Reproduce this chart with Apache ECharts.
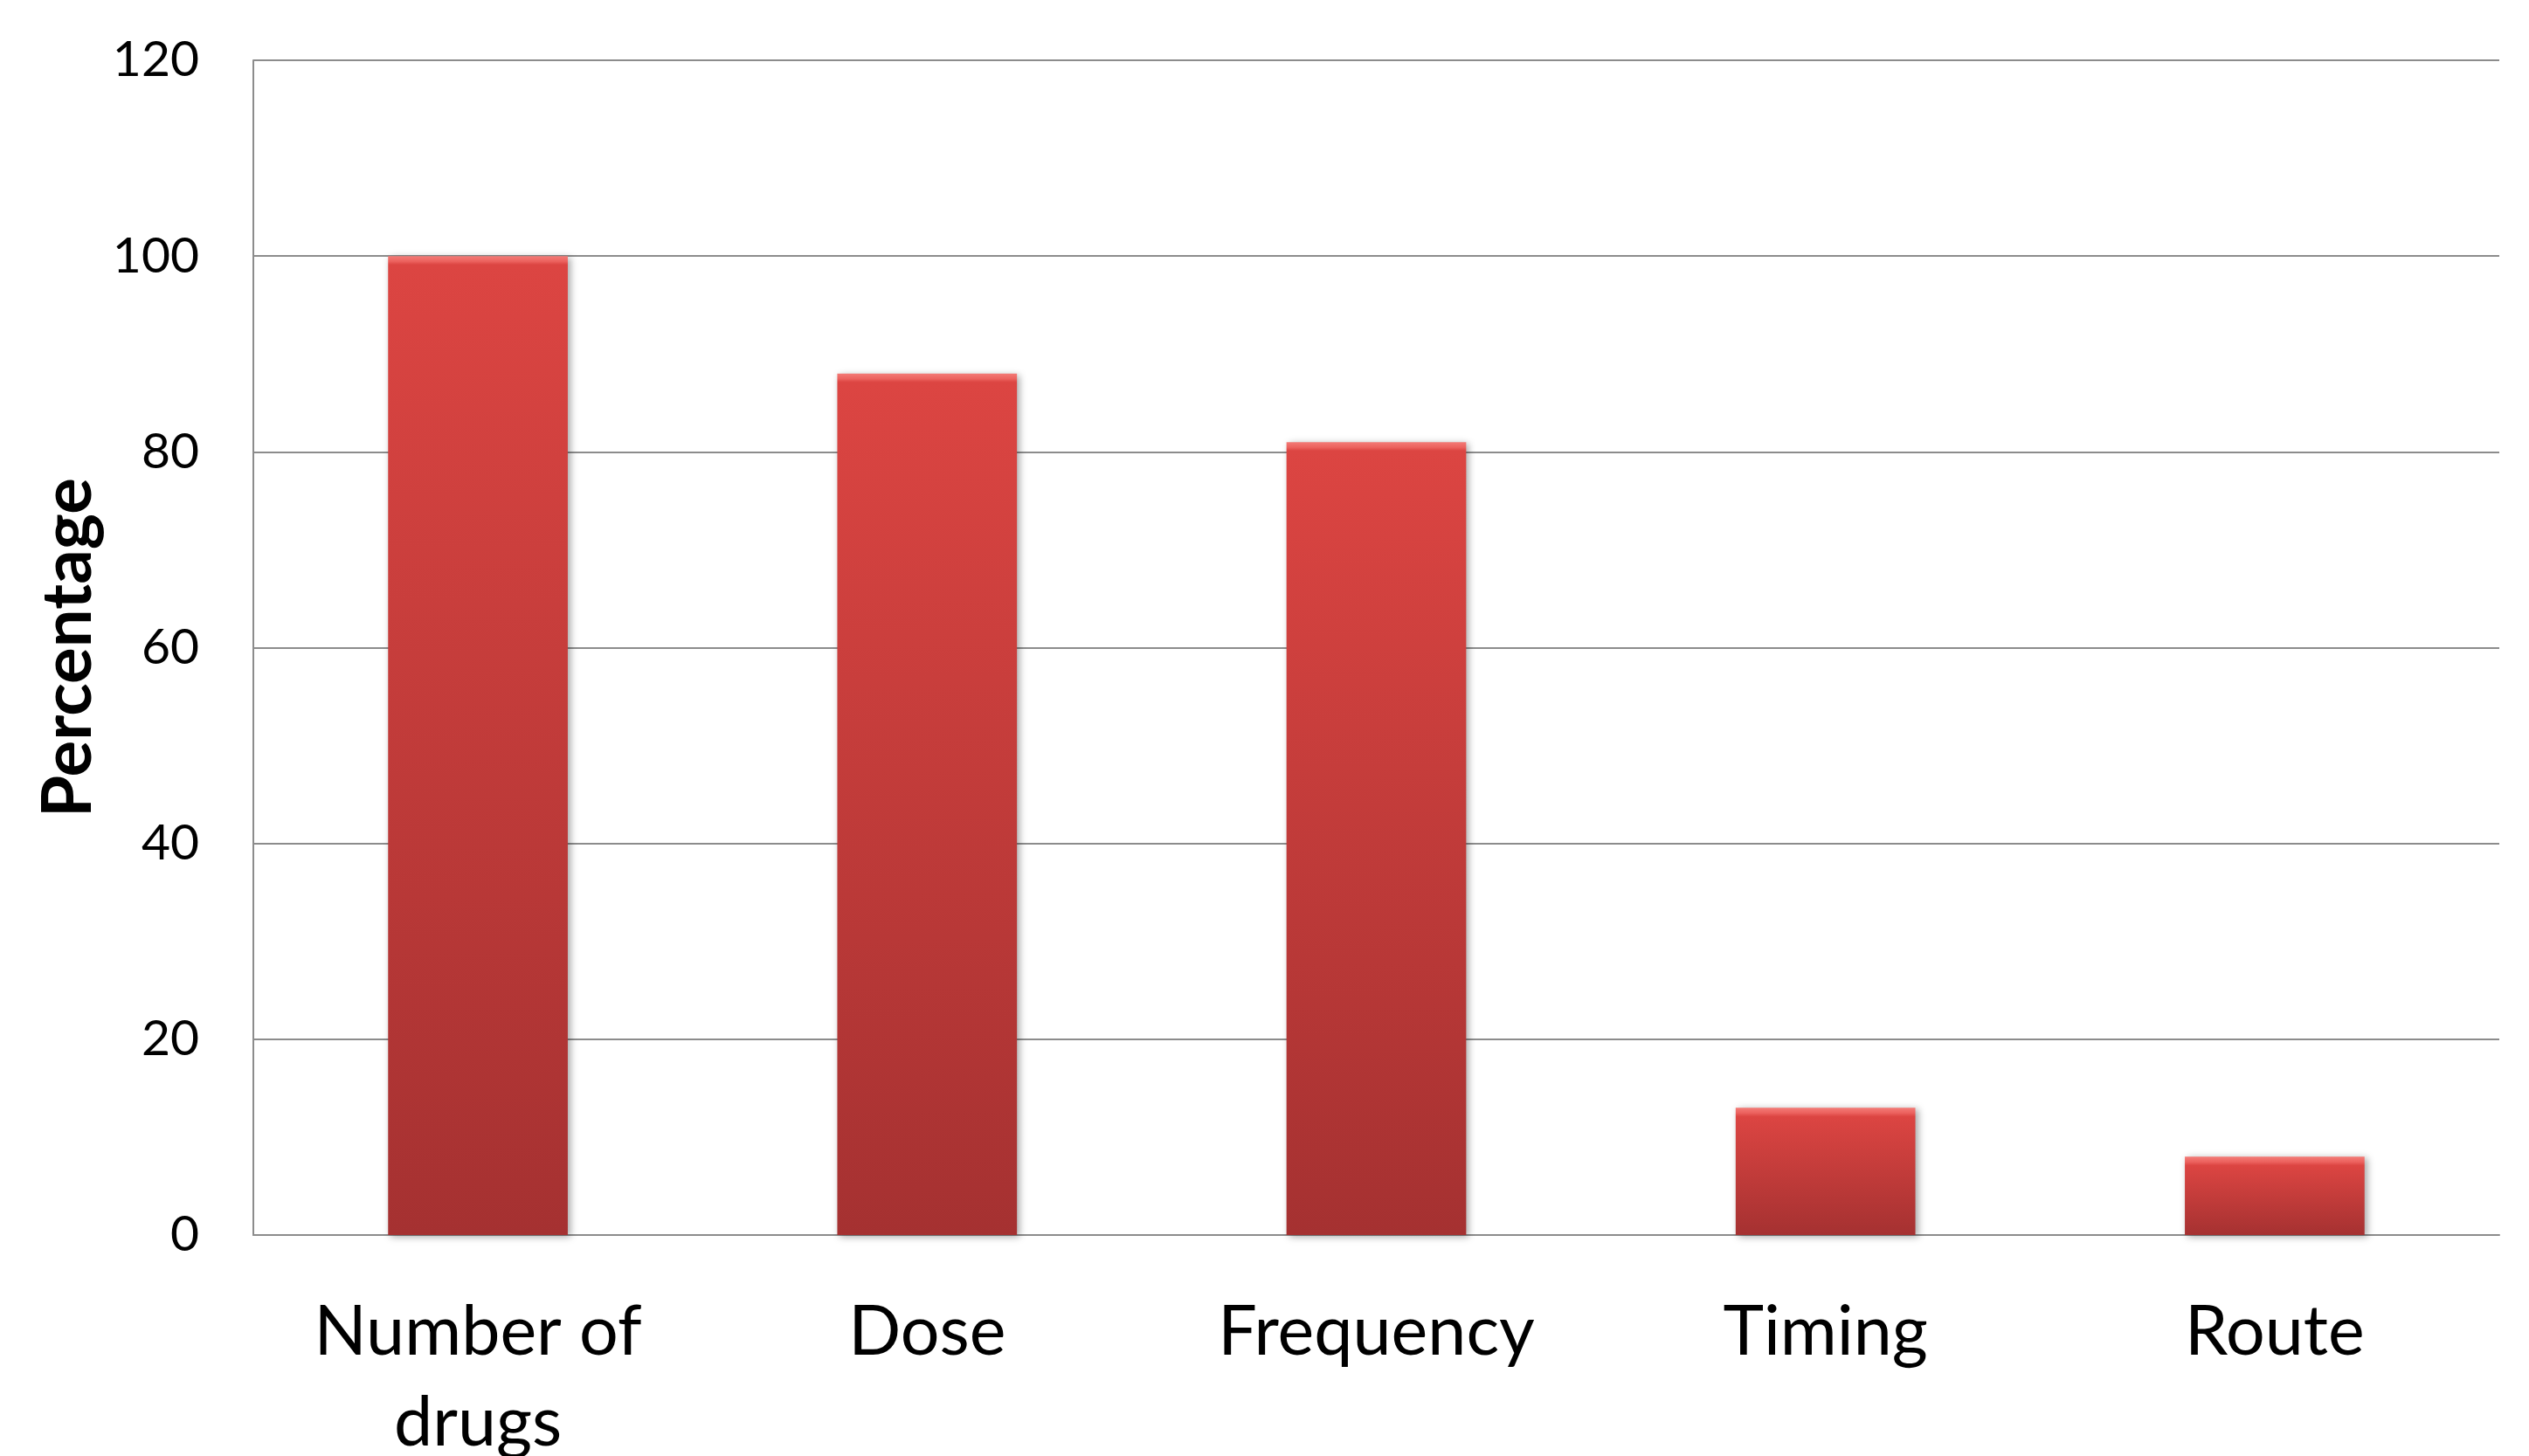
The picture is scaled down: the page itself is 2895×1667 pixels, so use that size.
<!DOCTYPE html>
<html>
<head>
<meta charset="utf-8">
<script src="https://cdn.jsdelivr.net/npm/echarts@6/dist/echarts.min.js"></script>
<style>
html,body{margin:0;padding:0;background:#fff;}
#chart{width:2895px;height:1667px;}
</style>
</head>
<body>
<div id="chart"></div>
<script>
// ---- data ----
const categories = ['Number of\ndrugs', 'Dose', 'Frequency', 'Timing', 'Route'];
const percentages = [100, 88, 81, 13, 8];
const yTicks = [0, 20, 40, 60, 80, 100, 120];
const yAxisTitle = 'Percentage';

// ---- layout / style ----
const GRID = {left: 290, right: 34, top: 69, bottom: 253};
const plotH = 1667 - GRID.top - GRID.bottom;
const yMax = yTicks[yTicks.length - 1];

function barColor(v) {
  const h = Math.max(1, v / yMax * plotH);
  const b = Math.min(0.45, 10 / h);
  return new echarts.graphic.LinearGradient(0, 0, 0, 1, [
    {offset: 0, color: '#F37B77'},
    {offset: b * 0.6, color: '#EC625E'},
    {offset: b, color: '#DC4542'},
    {offset: 1, color: '#A53131'}
  ]);
}

const chart = echarts.init(document.getElementById('chart'), null, {renderer: 'canvas'});
chart.setOption({
  animation: false,
  backgroundColor: '#ffffff',
  grid: {left: GRID.left, right: GRID.right, top: GRID.top, bottom: GRID.bottom, containLabel: false, outerBoundsMode: 'none'},
  xAxis: {
    type: 'category',
    data: categories,
    axisLine: {show: true, lineStyle: {color: '#8c8c8c', width: 2}},
    axisTick: {show: false},
    axisLabel: {
      color: '#000',
      fontFamily: 'Lato',
      fontSize: 79,
      lineHeight: 104,
      margin: 60,
      interval: 0
    }
  },
  yAxis: {
    type: 'value',
    min: yTicks[0],
    max: yMax,
    interval: yTicks[1] - yTicks[0],
    name: yAxisTitle,
    nameLocation: 'middle',
    nameGap: 172,
    nameRotate: 90,
    nameTextStyle: {color: '#000', fontFamily: 'Lato', fontWeight: 'bold', fontSize: 78},
    axisLine: {show: true, lineStyle: {color: '#8c8c8c', width: 2}},
    axisTick: {show: false},
    axisLabel: {color: '#000', fontFamily: 'Lato', fontSize: 57, margin: 62},
    splitLine: {show: true, lineStyle: {color: '#8c8c8c', width: 2}}
  },
  series: [{
    type: 'bar',
    data: percentages.map(v => ({value: v, itemStyle: {color: barColor(v)}})),
    barCategoryGap: '60%',
    itemStyle: {
      shadowColor: 'rgba(0,0,0,0.35)',
      shadowBlur: 8,
      shadowOffsetX: 3,
      shadowOffsetY: 2
    }
  }]
});
</script>
</body>
</html>
